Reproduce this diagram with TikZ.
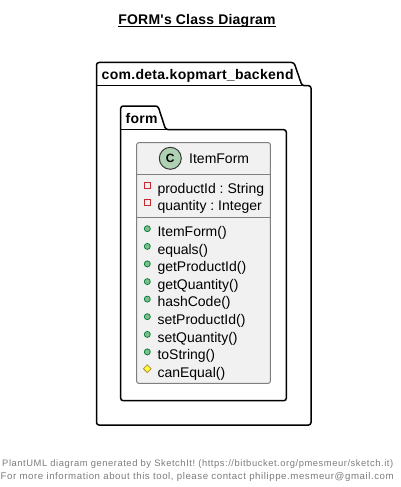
\documentclass[tikz,border=0pt]{standalone}
\usepackage{fontspec}
\setmainfont{Liberation Sans}
\newfontfamily\footfont[LetterSpace=6]{Liberation Sans}
\newfontfamily\titlefont[LetterSpace=1.6]{Liberation Sans}
\newfontfamily\pkgfont[LetterSpace=2.1]{Liberation Sans}
\usetikzlibrary{shapes.geometric}
\definecolor{classbg}{HTML}{F1F1F1}
\definecolor{classline}{HTML}{7F7F7F}
\definecolor{circfill}{HTML}{ADD1B2}
\definecolor{circline}{HTML}{383838}
\definecolor{pubfill}{HTML}{84BE84}
\definecolor{publine}{HTML}{038048}
\definecolor{privline}{HTML}{C82930}
\definecolor{protfill}{HTML}{FFFF44}
\definecolor{protline}{HTML}{B38D22}
\definecolor{foot}{HTML}{7C7C7C}
\tikzset{
  pkg/.style={draw=black,line width=1.5pt,fill=white,line join=round},
  pkglabel/.style={font=\fontsize{14}{14}\selectfont\pkgfont\bfseries,anchor=base west,inner sep=0pt,text=black},
  member/.style={font=\fontsize{14}{14}\selectfont\frenchspacing,anchor=base west,inner sep=0pt,text=black},
  pubicon/.style={circle,draw=publine,fill=pubfill,line width=.8pt,minimum size=6pt,inner sep=0pt},
  privicon/.style={rectangle,draw=privline,fill=none,line width=1pt,minimum size=6pt,inner sep=0pt},
  proticon/.style={diamond,draw=protline,fill=protfill,line width=.8pt,minimum size=8pt,inner sep=0pt},
  footer/.style={font=\fontsize{10}{10}\selectfont\footfont\frenchspacing,text=foot,anchor=base west,inner sep=0pt},
}
\begin{document}
\begin{tikzpicture}[x=1pt,y=-1pt]
\useasboundingbox (0,0) rectangle (401,487);
\fill[white] (0,0) rectangle (401,487);
% title
\node[font=\fontsize{14}{14}\selectfont\titlefont\bfseries,anchor=base,inner sep=0pt] (title) at (197,24.5) {FORM's Class Diagram};
\draw[line width=1pt] ([yshift=-2.5pt]title.base west) -- ([yshift=-2.5pt]title.base east);
% outer package
\draw[pkg,rounded corners=2.5pt] (96.5,85.7) -- (96.5,62.5) -- (294,62.5) -- (302,85.7) -- (311,85.7) -- (311,425) -- (96.5,425) -- cycle;
\draw[pkg] (96.5,85.7) -- (302,85.7);
\node[pkglabel] (outerlabel) at (101.5,79) {com.deta.kopmart\_backend};
% inner package
\draw[pkg,rounded corners=2.5pt] (120.7,129.7) -- (120.7,106) -- (158,106) -- (165.7,129.7) -- (286.3,129.7) -- (286.3,400.7) -- (120.7,400.7) -- cycle;
\draw[pkg] (120.7,129.7) -- (165.7,129.7);
\node[pkglabel] (innerlabel) at (125.5,123) {form};
% class
\draw[draw=classline,fill=classbg,line width=1pt,rounded corners=2pt] (136.7,142.7) rectangle (270.3,383.3);
\draw[classline,line width=1pt] (136.7,174.3) -- (270.3,174.3);
\draw[classline,line width=1pt] (136.7,217.5) -- (270.3,217.5);
\node[circle,draw=circline,fill=circfill,line width=1pt,minimum size=22pt,inner sep=0pt] (circ) at (170.3,158.3) {};
\node[font=\fontsize{12}{12}\selectfont\bfseries,inner sep=0pt] (clet) at (170.3,158.3) {C};
\node[member] (cname) at (189,163.7) {ItemForm};
\node[privicon] (i1) at (147.3,185.3) {};
\node[member] (m1) at (157.3,193.5) {productId : String};
\node[privicon] (i2) at (147.3,202.3) {};
\node[member] (m2) at (157.3,210.5) {quantity : Integer};
\foreach \yy/\txt in {228.7/ItemForm(),246.4/equals(),263.9/getProductId(),281.6/getQuantity(),299.1/hashCode(),316.7/setProductId(),334.4/setQuantity(),351.9/toString()}{
  \node[pubicon] at (147.3,\yy) {};
  \node[member] at (157.3,\yy+7.6) {\txt};
}
\node[proticon] (i3) at (147.3,368.7) {};
\node[member] (m3) at (157.3,377) {canEqual()};
% footer
\node[footer] (f1) at (2,466.5) {\resizebox{391pt}{!}{PlantUML diagram generated by SketchIt! (https://bitbucket.org/pmesmeur/sketch.it)}};
\node[footer] (f2) at (0.5,479) {\resizebox{393pt}{!}{For more information about this tool, please contact philippe.mesmeur@gmail.com}};
\end{tikzpicture}
\end{document}
